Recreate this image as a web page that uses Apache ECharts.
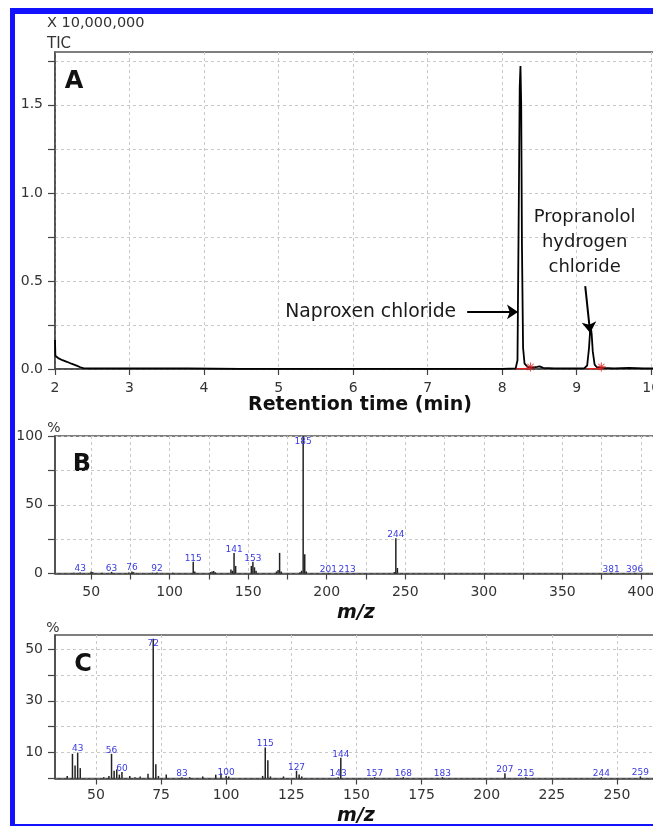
<!DOCTYPE html>
<html><head><meta charset="utf-8">
<script src="https://cdn.jsdelivr.net/npm/echarts@6/dist/echarts.min.js"></script>
<style>html,body{margin:0;padding:0;background:#fff;overflow:hidden}#c{width:653px;height:826px}</style>
</head><body><div id="c"></div>
<script>
// ---- Panel A: TIC chromatogram ----
const ticTime = [2.00, 2.005, 2.02, 2.05, 2.10, 2.16, 2.22, 2.29, 2.34, 2.38, 2.45, 2.55, 2.70, 3.00, 3.40, 3.78, 3.80, 4.50, 4.97, 4.99, 5.01, 6.00, 7.00, 8.00, 8.18, 8.205, 8.22, 8.235, 8.245, 8.255, 8.265, 8.28, 8.30, 8.34, 8.40, 8.47, 8.50, 8.55, 8.70, 8.90, 9.10, 9.14, 9.165, 9.18, 9.19, 9.20, 9.215, 9.24, 9.27, 9.35, 9.50, 9.70, 9.90, 10.05];
const ticIntensity = [0.165, 0.075, 0.068, 0.06, 0.05, 0.041, 0.03, 0.019, 0.01, 0.005, 0.003, 0.003, 0.003, 0.003, 0.003, 0.003, 0.001, 0.001, 0.001, 0.007, 0.001, 0.001, 0.001, 0.001, 0.003, 0.05, 0.8, 1.6, 1.72, 1.5, 0.7, 0.12, 0.03, 0.012, 0.008, 0.012, 0.015, 0.006, 0.004, 0.003, 0.004, 0.02, 0.12, 0.22, 0.235, 0.2, 0.1, 0.025, 0.01, 0.006, 0.004, 0.006, 0.004, 0.004];
const redBaseline1 = [8.19, 8.38];
const redBaseline2 = [9.14, 9.33];
const asteriskTimes = [8.38, 9.33];
const ticXTicks = [2, 3, 4, 5, 6, 7, 8, 9, 10];
const ticYTicks = [0, 0.25, 0.5, 0.75, 1.0, 1.25, 1.5, 1.75];
const ticYLabels = [0, 0.5, 1.0, 1.5];

// ---- Panel B: mass spectrum (naproxen chloride) ----
const specBmz  = [39, 43, 50, 51, 57, 63, 74, 76, 77, 89, 92, 102, 115, 116, 126, 127, 128, 129, 139, 140, 141, 142, 152, 153, 154, 155, 168, 169, 170, 171, 183, 184, 185, 186, 187, 201, 213, 243, 244, 245, 381, 396];
const specBint = [0.5, 0.8, 1.5, 1.0, 0.5, 1.2, 0.8, 1.5, 1.0, 0.6, 0.8, 0.6, 8.6, 1.5, 1.0, 1.5, 1.8, 1.0, 3.0, 2.0, 15.0, 5.5, 5.5, 8.6, 4.5, 2.0, 1.5, 2.5, 15.0, 1.5, 1.0, 2.0, 100, 14.0, 1.5, 0.5, 0.5, 1.0, 25.6, 4.0, 0.5, 0.5];
const specBlabels = [43, 63, 76, 92, 115, 141, 153, 185, 201, 213, 244, 381, 396];
const specBxTicks = [50, 75, 100, 125, 150, 175, 200, 225, 250, 275, 300, 325, 350, 375, 400];
const specBxLabels = [50, 100, 150, 200, 250, 300, 350, 400];
const specByTicks = [0, 25, 50, 75, 100];
const specByLabels = [0, 50, 100];

// ---- Panel C: mass spectrum (propranolol) ----
const specCmz  = [39, 41, 42, 43, 44, 53, 55, 56, 57, 58, 59, 60, 63, 65, 67, 70, 72, 73, 74, 77, 83, 86, 91, 96, 98, 100, 101, 114, 115, 116, 117, 122, 127, 128, 129, 143, 144, 157, 168, 183, 207, 215, 244, 259];
const specCint = [1.0, 9.5, 5.0, 10.0, 4.0, 0.5, 1.0, 9.5, 3.0, 3.5, 1.5, 2.5, 1.0, 0.5, 0.8, 1.8, 54.0, 5.5, 1.0, 1.5, 0.5, 0.5, 0.8, 1.5, 2.0, 1.0, 0.8, 1.0, 12.0, 7.0, 0.8, 0.8, 3.0, 1.5, 0.8, 0.5, 8.0, 0.5, 0.5, 0.5, 2.0, 0.5, 0.5, 0.8];
const specClabels = [43, 56, 60, 72, 83, 100, 115, 127, 143, 144, 157, 168, 183, 207, 215, 244, 259];
const specCxTicks = [50, 75, 100, 125, 150, 175, 200, 225, 250];
const specCxLabels = [50, 75, 100, 125, 150, 175, 200, 225, 250];
const specCyTicks = [0, 10, 20, 30, 40, 50];
const specCyLabels = [10, 30, 50];

const FONT = 'DejaVu Sans';
const chart = echarts.init(document.getElementById('c'), null, {renderer: 'canvas'});

function xAxisCfg(idx, min, max, ticks, labels, fmt, margin) {
  return {
    type: 'value', gridIndex: idx, min: min, max: max,
    axisLine: {show: true, onZero: false, lineStyle: {color: '#444', width: 1.5}},
    axisTick: {show: true, length: 6, customValues: ticks, lineStyle: {color: '#444', width: 1.2}},
    axisLabel: {customValues: labels, fontFamily: FONT, fontSize: 14, color: '#333', margin: margin, formatter: fmt, hideOverlap: false},
    splitLine: {show: true, lineStyle: {color: '#c9c9c9', width: 1, type: [3, 3]}}
  };
}
function yAxisCfg(idx, min, max, ticks, labels, fmt) {
  return {
    type: 'value', gridIndex: idx, min: min, max: max,
    axisLine: {show: true, onZero: false, lineStyle: {color: '#444', width: 1.5}},
    axisTick: {show: true, length: 7, customValues: ticks, lineStyle: {color: '#444', width: 1.2}},
    axisLabel: {customValues: labels, fontFamily: FONT, fontSize: 14, color: '#333', margin: 12, formatter: fmt},
    splitLine: {show: true, lineStyle: {color: '#c9c9c9', width: 1, type: [3, 3]}}
  };
}

function barData(mz, inten, labelled) {
  const maxV = Math.max.apply(null, inten);
  return mz.map((m, i) => {
    const item = {value: [m, inten[i]]};
    if (labelled.indexOf(m) >= 0) {
      item.label = {show: true, formatter: String(m), distance: inten[i] === maxV ? -10 : -1};
    }
    return item;
  });
}
const barLabel = {show: false, position: 'top', color: '#3a3ae0', fontSize: 9, fontFamily: FONT};

const ticData = ticTime.map((t, i) => [t, ticIntensity[i]]);

const gridBase = {left: 55, width: 600, show: true, borderColor: '#555', borderWidth: 1.5, outerBoundsMode: 'none', containLabel: false};

const option = {
  animation: false,
  grid: [
    Object.assign({}, gridBase, {top: 52, height: 317}),
    Object.assign({}, gridBase, {top: 436, height: 137.5}),
    Object.assign({}, gridBase, {top: 635, height: 143.5})
  ],
  xAxis: [
    xAxisCfg(0, 2, 10.05, ticXTicks, ticXTicks, v => String(Math.round(v)), 12),
    xAxisCfg(1, 27, 409, specBxTicks, specBxLabels, v => String(Math.round(v)), 12),
    xAxisCfg(2, 34.3, 264.6, specCxTicks, specCxLabels, v => String(Math.round(v)), 10)
  ],
  yAxis: [
    yAxisCfg(0, 0, 1.8, ticYTicks, ticYLabels, v => v.toFixed(1)),
    yAxisCfg(1, 0, 100, specByTicks, specByLabels, v => String(Math.round(v))),
    yAxisCfg(2, 0, 55.4, specCyTicks, specCyLabels, v => String(Math.round(v)))
  ],
  series: [
    {
      type: 'line', xAxisIndex: 0, yAxisIndex: 0, data: ticData, showSymbol: false, silent: true,
      lineStyle: {color: '#000', width: 1.8}, z: 3,
      markLine: {
        silent: true, animation: false, symbol: ['none', 'arrow'], symbolSize: 11,
        lineStyle: {color: '#000', width: 2, type: 'solid'},
        label: {show: true, position: 'start', color: '#1a1a1a', fontSize: 18, fontFamily: FONT, distance: 10},
        data: [
          [{coord: [7.53, 0.324], label: {formatter: 'Naproxen chloride', fontSize: 18.8, distance: 11}}, {coord: [8.212, 0.324]}],
          [{coord: [9.114, 0.47], label: {formatter: 'Propranolol\nhydrogen\nchloride', lineHeight: 25, align: 'center', distance: 6}}, {coord: [9.18, 0.205]}]
        ]
      }
    },
    {type: 'line', xAxisIndex: 0, yAxisIndex: 0, data: redBaseline1.map(t => [t, 0.002]), showSymbol: false, silent: true, lineStyle: {color: '#e02020', width: 1.5}, z: 4},
    {type: 'line', xAxisIndex: 0, yAxisIndex: 0, data: redBaseline2.map(t => [t, 0.002]), showSymbol: false, silent: true, lineStyle: {color: '#e02020', width: 1.5}, z: 4},
    {
      type: 'scatter', xAxisIndex: 0, yAxisIndex: 0, data: asteriskTimes.map(t => [t, 0.012]), silent: true, z: 5,
      symbol: 'path://M-0.6,-5 L0.6,-5 L0.6,5 L-0.6,5 Z M-5,-0.6 L5,-0.6 L5,0.6 L-5,0.6 Z M-3.9,-3.1 L-3.1,-3.9 L3.9,3.1 L3.1,3.9 Z M3.1,-3.9 L3.9,-3.1 L-3.1,3.9 L-3.9,3.1 Z',
      symbolSize: 9, itemStyle: {color: '#e02020'}
    },
    {
      type: 'bar', xAxisIndex: 1, yAxisIndex: 1, barWidth: 1.5, silent: true,
      data: barData(specBmz, specBint, specBlabels), itemStyle: {color: '#222'}, label: barLabel, z: 3
    },
    {
      type: 'bar', xAxisIndex: 2, yAxisIndex: 2, barWidth: 1.5, silent: true,
      data: barData(specCmz, specCint, specClabels), itemStyle: {color: '#222'}, label: barLabel, z: 3
    }
  ],
  graphic: [
    {type: 'rect', shape: {x: 10, y: 8, width: 643, height: 6}, style: {fill: '#1212ff'}, silent: true},
    {type: 'rect', shape: {x: 10, y: 8, width: 5, height: 818}, style: {fill: '#1212ff'}, silent: true},
    {type: 'rect', shape: {x: 10, y: 824, width: 643, height: 2}, style: {fill: '#1212ff'}, silent: true},
    {type: 'text', x: 47, y: 23, style: {text: 'X 10,000,000', fontSize: 14.5, fontFamily: FONT, fill: '#333', align: 'left', verticalAlign: 'middle'}, silent: true},
    {type: 'text', x: 47, y: 44, style: {text: 'TIC', fontSize: 15, fontFamily: FONT, fill: '#333', align: 'left', verticalAlign: 'middle'}, silent: true},
    {type: 'text', x: 74, y: 82, style: {text: 'A', fontSize: 24, fontWeight: 'bold', fontFamily: FONT, fill: '#111', align: 'center', verticalAlign: 'middle'}, silent: true},
    {type: 'text', x: 82, y: 465, style: {text: 'B', fontSize: 24, fontWeight: 'bold', fontFamily: FONT, fill: '#111', align: 'center', verticalAlign: 'middle'}, silent: true},
    {type: 'text', x: 83, y: 665, style: {text: 'C', fontSize: 24, fontWeight: 'bold', fontFamily: FONT, fill: '#111', align: 'center', verticalAlign: 'middle'}, silent: true},
    {type: 'text', x: 54, y: 428, style: {text: '%', fontSize: 14, fontFamily: FONT, fill: '#333', align: 'center', verticalAlign: 'middle'}, silent: true},
    {type: 'text', x: 53, y: 628, style: {text: '%', fontSize: 14, fontFamily: FONT, fill: '#333', align: 'center', verticalAlign: 'middle'}, silent: true},
    {type: 'text', x: 360, y: 405, style: {text: 'Retention time (min)', fontSize: 19, fontWeight: 'bold', fontFamily: FONT, fill: '#111', align: 'center', verticalAlign: 'middle'}, silent: true},
    {type: 'text', x: 356, y: 613, style: {text: 'm/z', fontSize: 19, fontWeight: 'bold', fontStyle: 'italic', fontFamily: FONT, fill: '#111', align: 'center', verticalAlign: 'middle'}, silent: true},
    {type: 'text', x: 356, y: 816, style: {text: 'm/z', fontSize: 19, fontWeight: 'bold', fontStyle: 'italic', fontFamily: FONT, fill: '#111', align: 'center', verticalAlign: 'middle'}, silent: true}
  ]
};
chart.setOption(option);
</script>
</body></html>
